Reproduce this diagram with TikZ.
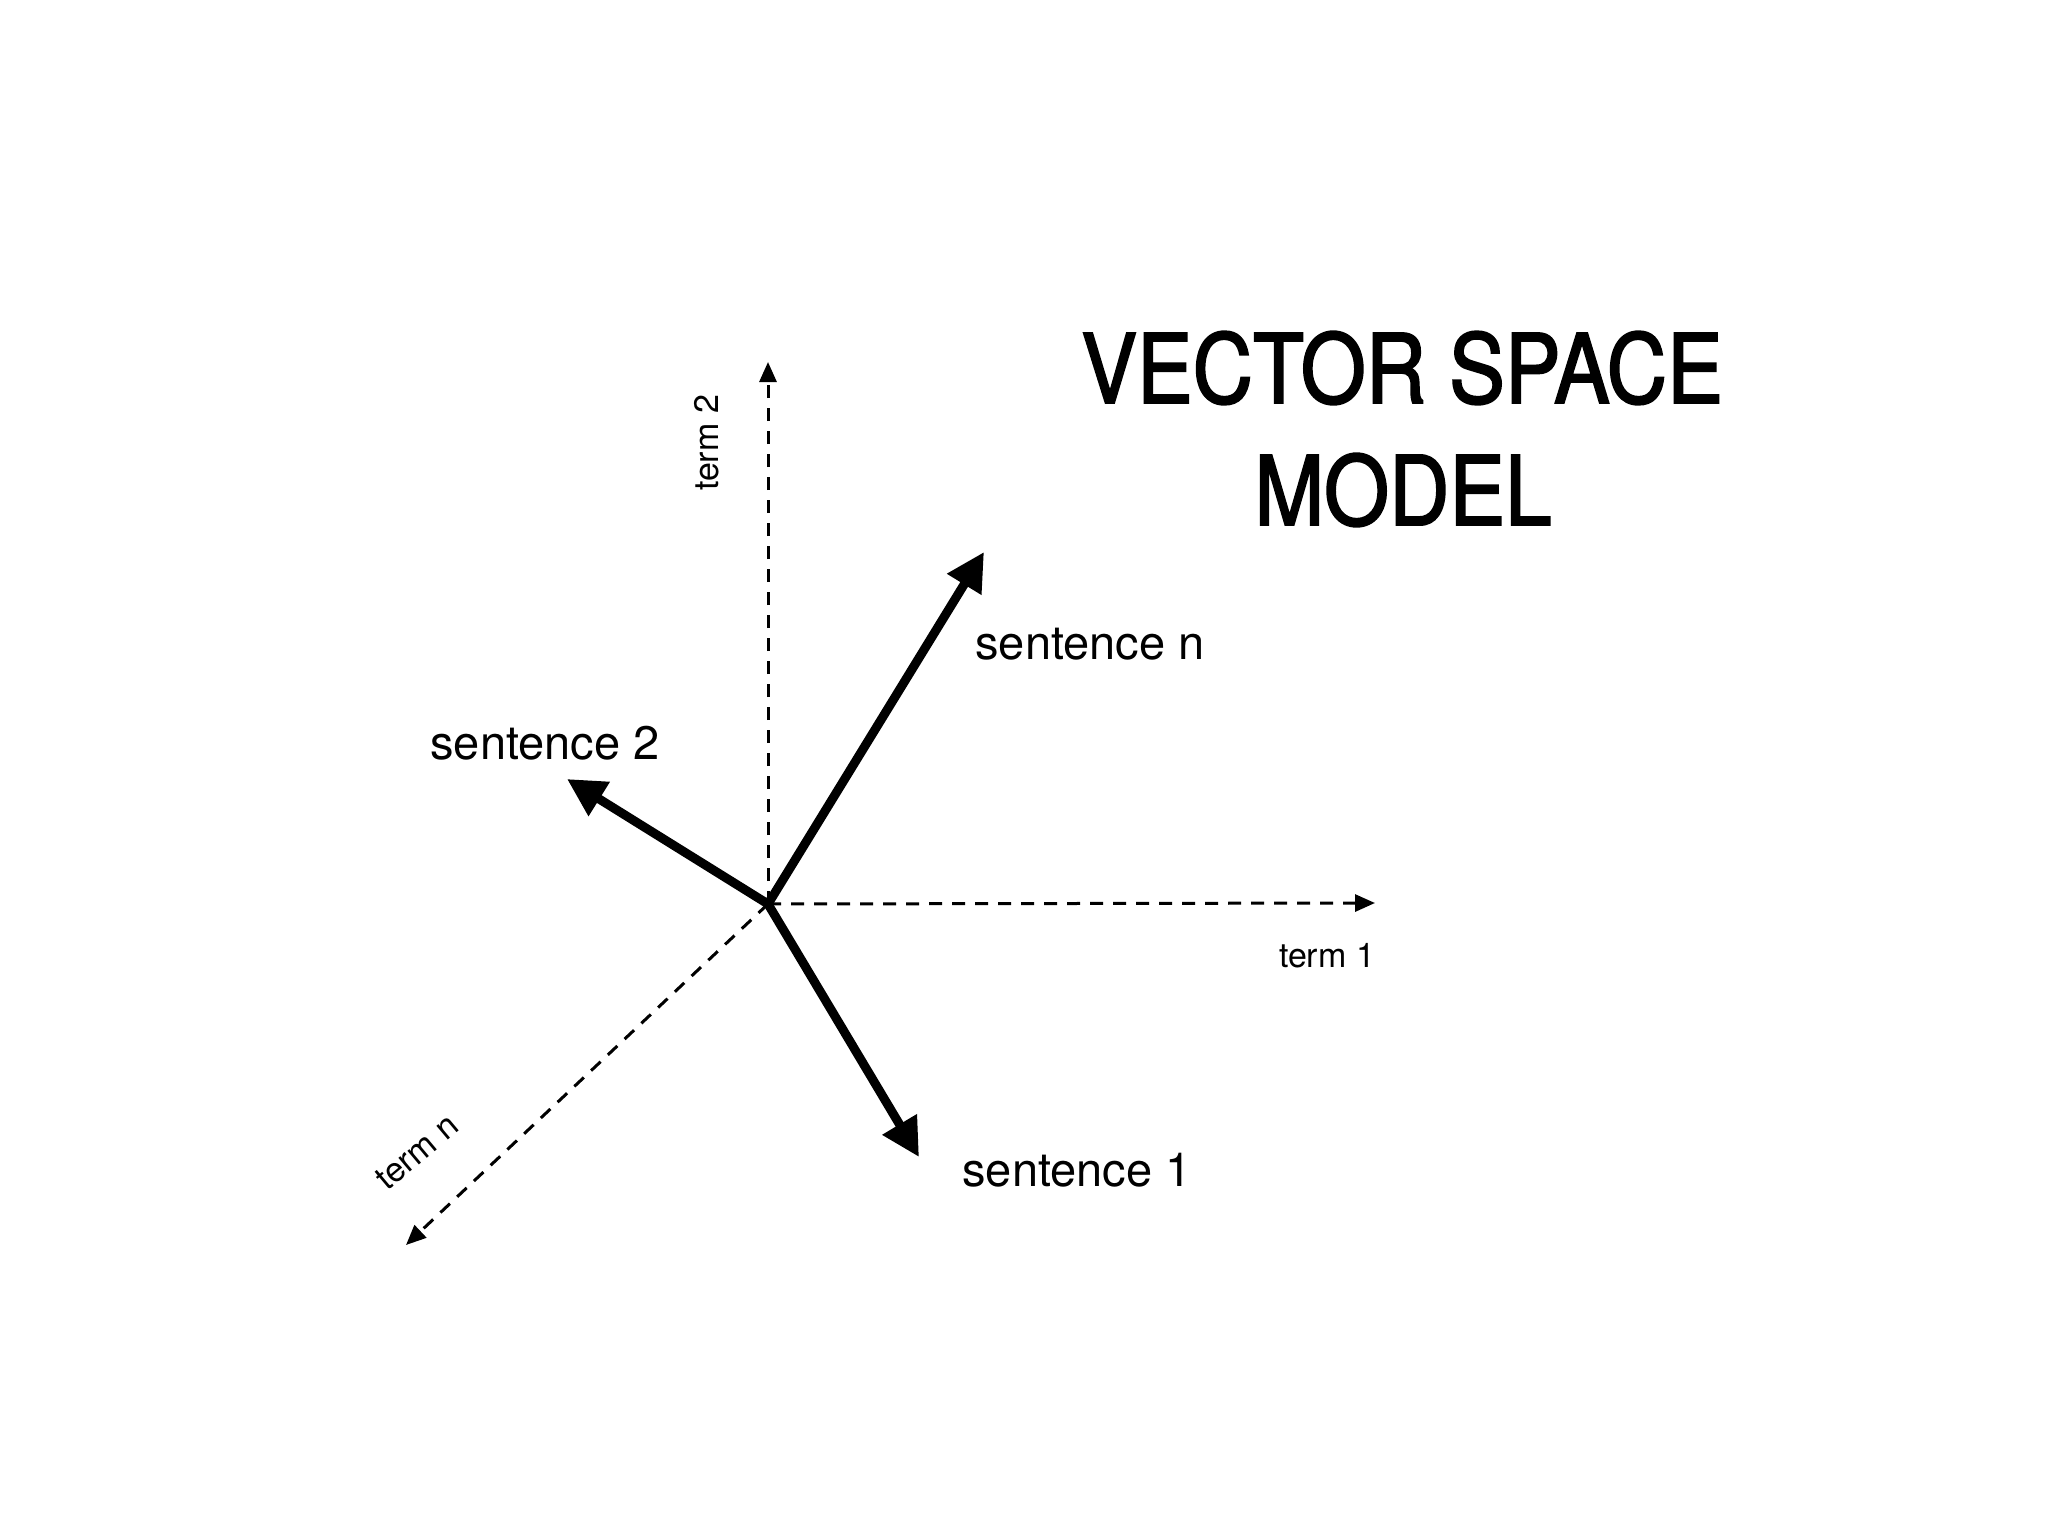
\documentclass[tikz,border=0pt]{standalone}
\usepackage{fontspec}
\setmainfont{TeX Gyre Heros}
\newfontfamily\titlefont[FakeStretch=0.87,FakeBold=2]{TeX Gyre Heros}
\usetikzlibrary{arrows.meta}
\tikzset{
  axis/.style={line width=3pt, dash pattern=on 13pt off 10pt, -{Triangle[length=20pt,width=17pt]}},
  vec/.style={line width=9pt, -{Triangle[length=38pt,width=38pt]}},
  termlabel/.style={inner sep=0pt, font=\fontsize{34}{38}\selectfont},
  senlabel/.style={inner sep=0pt, font=\fontsize{47}{54}\selectfont},
  titlelabel/.style={inner sep=0pt, font=\titlefont\fontsize{96}{110}\selectfont}
}
\begin{document}
\begin{tikzpicture}[x=1pt,y=-1pt]
\useasboundingbox[fill=white] (0,0) rectangle (2048,1536);
\coordinate (O) at (768,904);
\coordinate (t2) at (768,362);
\coordinate (t1) at (1375,903);
\coordinate (tn) at (406,1245);
\coordinate (s2) at (567,779);
\coordinate (s1) at (919,1157);
\coordinate (sn) at (984,552);
\draw[axis] (O) -- (t2);
\draw[axis] (O) -- (t1);
\draw[axis] (O) -- (tn);
\draw[vec] (O) -- (sn);
\draw[vec] (O) -- (s2);
\draw[vec] (O) -- (s1);
\node[termlabel, rotate=90] (lt2) at (707,443) {term 2};
\node[termlabel] (lt1) at (1327,956) {term 1};
\node[termlabel, rotate=40] (ltn) at (417,1152) {term n};
\node[senlabel] (ls1) at (1077,1170) {sentence 1};
\node[senlabel] (lsn) at (1090,644) {sentence n};
\node[senlabel] (ls2) at (545,743) {sentence 2};
\node[titlelabel] (title1) at (1402,368) {VECTOR SPACE};
\node[titlelabel] (title2) at (1403,490) {MODEL};
\end{tikzpicture}
\end{document}
